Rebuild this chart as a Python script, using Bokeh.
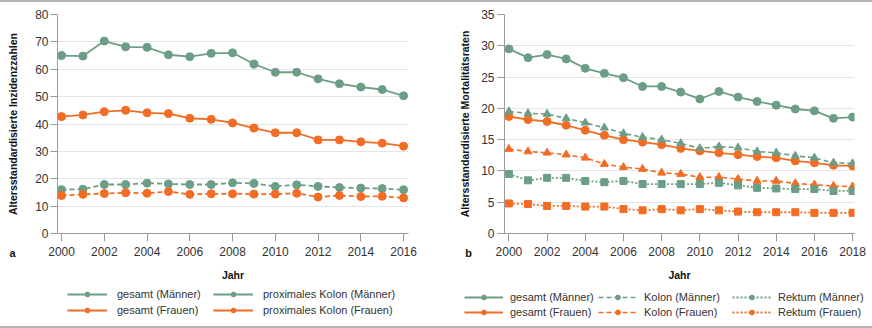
from bokeh.plotting import figure
from bokeh.models import (ColumnDataSource, Legend, LegendItem, Label, Div,
                          Range1d, FixedTicker)
from bokeh.layouts import row, column
from bokeh.embed import file_html
from bokeh.resources import INLINE

# ---------------- data: panel a (Inzidenz) ----------------
years_a = list(range(2000, 2017))
inz_gesamt_m = [65.0, 64.8, 70.3, 68.2, 68.0, 65.3, 64.6, 65.8, 66.0, 61.9,
                58.9, 58.9, 56.5, 54.7, 53.5, 52.6, 50.3]
inz_gesamt_f = [42.7, 43.3, 44.5, 45.0, 44.1, 43.8, 42.1, 41.7, 40.4, 38.5,
                36.8, 36.8, 34.2, 34.2, 33.5, 33.0, 31.9]
inz_prox_m = [16.0, 16.2, 17.9, 17.9, 18.4, 18.1, 17.9, 17.9, 18.5, 18.3,
              17.2, 17.8, 17.2, 16.8, 16.6, 16.4, 16.0]
inz_prox_f = [13.9, 14.3, 14.6, 14.9, 14.7, 15.3, 14.3, 14.5, 14.5, 14.4,
              14.4, 14.7, 13.3, 13.9, 13.5, 13.6, 13.0]
xticks_a = list(range(2000, 2017, 2))
yticks_a = list(range(0, 81, 10))

# ---------------- data: panel b (Mortalitaet) ----------------
years_b = list(range(2000, 2019))
mort_gesamt_m = [29.5, 28.1, 28.6, 27.9, 26.4, 25.6, 24.9, 23.5, 23.5, 22.6,
                 21.5, 22.7, 21.8, 21.1, 20.5, 19.9, 19.6, 18.4, 18.6]
mort_gesamt_f = [18.7, 18.2, 17.9, 17.3, 16.5, 15.7, 15.0, 14.6, 14.2, 13.6,
                 13.2, 12.9, 12.6, 12.3, 12.1, 11.6, 11.3, 10.9, 10.8]
mort_kolon_m = [19.5, 19.2, 19.1, 18.4, 17.7, 16.9, 16.0, 15.4, 15.0, 14.4,
                13.6, 13.9, 13.7, 13.1, 12.9, 12.4, 12.1, 11.3, 11.2]
mort_kolon_f = [13.5, 13.1, 12.9, 12.6, 12.1, 11.1, 10.6, 10.3, 9.7, 9.5,
                9.0, 9.0, 8.7, 8.4, 8.4, 8.0, 7.8, 7.6, 7.5]
mort_rektum_m = [9.5, 8.5, 8.9, 8.9, 8.4, 8.2, 8.4, 7.9, 7.9, 7.9,
                 7.9, 8.1, 7.7, 7.3, 7.2, 7.1, 7.1, 6.8, 6.8]
mort_rektum_f = [4.8, 4.7, 4.4, 4.4, 4.3, 4.3, 3.9, 3.7, 3.9, 3.7,
                 3.9, 3.7, 3.5, 3.4, 3.4, 3.4, 3.3, 3.3, 3.3]
xticks_b = list(range(2000, 2019, 2))
yticks_b = list(range(0, 36, 5))

labels_a_m = ["gesamt (Männer)", "proximales Kolon (Männer)"]
labels_a_f = ["gesamt (Frauen)", "proximales Kolon (Frauen)"]
labels_b_m = ["gesamt (Männer)", "Kolon (Männer)", "Rektum (Männer)"]
labels_b_f = ["gesamt (Frauen)", "Kolon (Frauen)", "Rektum (Frauen)"]

GREEN = "#6b9e84"
ORANGE = "#f26c24"
FONT = "Liberation Sans"
TXT = "#333333"
AXC = "#9a9a9a"


def base_fig(xr, yr, xticks, yticks, ylabel, bl, br, std):
    p = figure(width=436, height=282, x_range=xr, y_range=yr,
               output_backend="svg", toolbar_location=None,
               min_border_left=bl, min_border_right=br,
               min_border_top=12, min_border_bottom=51)
    p.outline_line_color = None
    p.xgrid.grid_line_color = None
    p.ygrid.grid_line_color = "#e4e4e4"
    p.ygrid.grid_line_width = 1
    p.xaxis.ticker = FixedTicker(ticks=xticks)
    p.yaxis.ticker = FixedTicker(ticks=yticks)
    for ax in (p.xaxis[0], p.yaxis[0]):
        ax.axis_line_color = AXC
        ax.major_tick_line_color = AXC
        ax.minor_tick_line_color = None
        ax.major_tick_in = 0
        ax.major_label_text_font = FONT
        ax.major_label_text_font_size = "12px"
        ax.major_label_text_color = TXT
        ax.axis_label_text_font = FONT
        ax.axis_label_text_font_style = "bold"
        ax.axis_label_text_font_size = "10.5px"
        ax.axis_label_text_color = "#111111"
    p.xaxis.major_tick_out = 8
    p.xaxis.major_label_standoff = 5
    p.xaxis.axis_label = "Jahr"
    p.xaxis.axis_label_standoff = 10
    p.yaxis.major_tick_out = 7
    p.yaxis.major_label_standoff = 2
    p.yaxis.axis_label = ylabel
    p.yaxis.axis_label_standoff = std
    p.border_fill_color = "white"
    return p


def legend_fig():
    # a strip that only hosts the legend; its ranges show none of the data
    f = figure(width=436, height=42, output_backend="svg",
               x_range=Range1d(0, 1), y_range=Range1d(0, 1),
               toolbar_location=None, x_axis_location=None,
               y_axis_location=None, min_border=0)
    f.xgrid.visible = False
    f.ygrid.visible = False
    f.outline_line_color = None
    return f


def legend(items, loc, gw, ls, lw):
    return Legend(items=items, location=loc, orientation="horizontal",
                  padding=0, margin=0, spacing=0, glyph_width=gw,
                  glyph_height=12, label_height=12, label_standoff=ls,
                  label_width=lw, label_text_font=FONT,
                  label_text_font_size="11px", label_text_color=TXT,
                  background_fill_alpha=0, border_line_color=None)


def panel_label(text, x):
    return Label(x=x, y=-19, x_units="screen", y_units="screen", text=text,
                 text_font=FONT, text_font_style="bold", text_font_size="11px",
                 text_color="#111111", text_align="center",
                 text_baseline="middle")


def legend_glyph(f, source, col, color, dash, lw=1.8):
    ln = f.line("x", col, source=source, color=color, line_width=lw,
                line_dash=dash)
    sc = f.scatter("x", col, source=source, marker="circle", size=8,
                   color=color)
    return [ln, sc]


# ---------------- panel a ----------------
pa = base_fig(Range1d(1999.81, 2016.23), Range1d(0, 80), xticks_a, yticks_a,
              "Altersstandardisierte Inzidenzzahlen", 57, 28, 13)

src = ColumnDataSource(dict(x=years_a, gm=inz_gesamt_m, gf=inz_gesamt_f,
                            pm=inz_prox_m, pf=inz_prox_f))
for col, c, dash in (("gm", GREEN, "solid"), ("gf", ORANGE, "solid"),
                     ("pm", GREEN, "5 3"), ("pf", ORANGE, "5 3")):
    pa.line("x", col, source=src, color=c, line_width=1.8, line_dash=dash)
    pa.scatter("x", col, source=src, marker="circle", size=8, color=c)
pa.add_layout(panel_label("a", -396), "right")

la = legend_fig()
leg_a1 = legend([LegendItem(label=labels_a_m[0], renderers=legend_glyph(la, src, "gm", GREEN, "solid")),
                 LegendItem(label=labels_a_m[1], renderers=legend_glyph(la, src, "pm", GREEN, "solid"))],
                (67, 26), 40, 10, 96)
leg_a2 = legend([LegendItem(label=labels_a_f[0], renderers=legend_glyph(la, src, "gf", ORANGE, "solid")),
                 LegendItem(label=labels_a_f[1], renderers=legend_glyph(la, src, "pf", ORANGE, "solid"))],
                (67, 10), 40, 10, 96)
la.add_layout(leg_a1)
la.add_layout(leg_a2)

# ---------------- panel b ----------------
pb = base_fig(Range1d(1999.77, 2018.1), Range1d(0, 35), xticks_b, yticks_b,
              "Altersstandardisierte Mortalitätsraten", 68, 18, 7)
pb.yaxis.major_label_standoff = 3

srb = ColumnDataSource(dict(x=years_b, gm=mort_gesamt_m, gf=mort_gesamt_f,
                            km=mort_kolon_m, kf=mort_kolon_f,
                            rm=mort_rektum_m, rf=mort_rektum_f))
for col, c, dash, mk, sz, lw in (
        ("gm", GREEN, "solid", "circle", 8, 1.8),
        ("gf", ORANGE, "solid", "circle", 8, 1.8),
        ("km", GREEN, "5 3", "triangle", 8, 1.6),
        ("kf", ORANGE, "5 3", "triangle", 8, 1.6),
        ("rm", GREEN, "2 2", "square", 7, 1.8),
        ("rf", ORANGE, "2 2", "square", 7, 1.8)):
    pb.line("x", col, source=srb, color=c, line_width=lw, line_dash=dash)
    pb.scatter("x", col, source=srb, marker=mk, size=sz, color=c)
pb.add_layout(panel_label("b", -386), "right")

lb = legend_fig()
leg_b1 = legend([LegendItem(label=labels_b_m[0], renderers=legend_glyph(lb, srb, "gm", GREEN, "solid")),
                 LegendItem(label=labels_b_m[1], renderers=legend_glyph(lb, srb, "km", GREEN, "5 3", 1.6)),
                 LegendItem(label=labels_b_m[2], renderers=legend_glyph(lb, srb, "rm", GREEN, "2 2"))],
                (28, 23), 39, 7, 88)
leg_b2 = legend([LegendItem(label=labels_b_f[0], renderers=legend_glyph(lb, srb, "gf", ORANGE, "solid")),
                 LegendItem(label=labels_b_f[1], renderers=legend_glyph(lb, srb, "kf", ORANGE, "5 3", 1.6)),
                 LegendItem(label=labels_b_f[2], renderers=legend_glyph(lb, srb, "rf", ORANGE, "2 2"))],
                (28, 8), 39, 7, 88)
lb.add_layout(leg_b1)
lb.add_layout(leg_b2)

LINE = "#b4b4ac"
top = Div(width=872, height=2, margin=0, styles={"background-color": LINE})
bot = Div(width=872, height=2, margin=0, styles={"background-color": LINE})
layout = column(top, row(pa, pb, spacing=0), row(la, lb, spacing=0), bot,
                spacing=0)

open("out.html", "w").write(file_html(layout, INLINE))
